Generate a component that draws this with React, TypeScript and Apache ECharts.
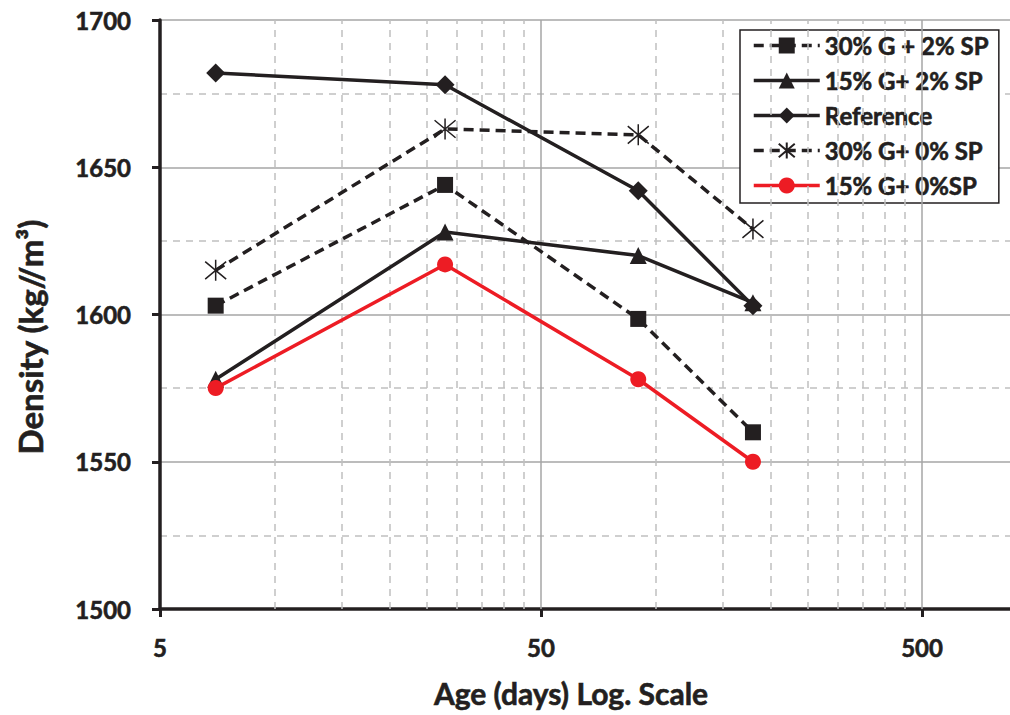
import React, { useEffect, useRef } from "react";
import * as echarts from "echarts";

const ages = [7, 28, 90, 180];
const s30G2SP = [1603, 1644, 1598.5, 1560];
const s15G2SP = [1578, 1628, 1620, 1604];
const reference = [1682, 1678, 1642, 1603];
const s30G0SP = [1615, 1663, 1661, 1629];
const s15G0SP = [1575, 1617, 1578, 1550];

const seriesNames = ["30% G + 2% SP", "15% G+ 2% SP", "Reference", "30% G+ 0% SP", "15% G+ 0%SP"];
const xTickLabels = [5, 50, 500];
const xMajorGrid = [50, 500];
const xMinorGrid = [10, 15, 20, 25, 30, 35, 40, 45, 100, 150, 200, 250, 300, 350, 400, 450];

const INK = "#231f20";
const RED = "#ed1c24";
const FONT = "Lato, 'Open Sans', sans-serif";
const STAR = "path://M0,0L20,20M20,0L0,20M10,-2L10,22";

export default function App() {
  const ref = useRef<HTMLDivElement>(null);
  useEffect(() => {
    const chart = echarts.init(ref.current!, undefined, { renderer: "svg" });
    const pairs = (vals: number[]) => ages.map((a, i) => [a, vals[i]]);
    const lineSeries = (name: string, vals: number[], opts: any) => ({
      type: "line",
      name,
      data: pairs(vals),
      symbolSize: opts.symbolSize,
      symbol: opts.symbol,
      lineStyle: { color: opts.color, width: 3.5, type: opts.dashed ? [10, 6] : "solid" },
      itemStyle: opts.itemStyle || { color: opts.color },
      z: 5,
    });
    const bold = { textBorderColor: INK, textBorderWidth: 0.6 };
    chart.setOption({
      animation: false,
      backgroundColor: "#fff",
      grid: { left: 160, top: 20, bottom: 106, right: 0 },
      xAxis: {
        type: "log",
        logBase: 10,
        min: 5,
        max: 851,
        axisLine: { lineStyle: { color: INK, width: 3.5 } },
        axisTick: { show: true, length: 8, lineStyle: { color: INK, width: 3 }, customValues: xTickLabels },
        axisLabel: {
          customValues: xTickLabels,
          margin: 26,
          fontFamily: FONT,
          fontWeight: "bold",
          fontSize: 24,
          color: INK,
          ...bold,
        },
        splitLine: { show: false },
        minorTick: { show: false },
      },
      yAxis: {
        type: "value",
        min: 1500,
        max: 1700,
        interval: 50,
        axisLine: { show: true, lineStyle: { color: INK, width: 3.5 } },
        axisTick: { show: true, length: 8, lineStyle: { color: INK, width: 3 } },
        axisLabel: {
          margin: 29,
          fontFamily: FONT,
          fontWeight: "bold",
          fontSize: 24,
          color: INK,
          formatter: (v: number) => String(v),
          ...bold,
        },
        splitLine: { show: true, lineStyle: { color: "#a6a6a6", width: 1.5 } },
        minorTick: { show: false, splitNumber: 2 },
        minorSplitLine: { show: true, lineStyle: { color: "#c0c0c0", width: 1.5, type: [7, 6] } },
      },
      legend: {
        orient: "vertical",
        left: 740,
        top: 30,
        padding: [3, 10, 5, 12],
        itemWidth: 66,
        itemHeight: 20,
        itemGap: 10,
        backgroundColor: "#fff",
        borderColor: INK,
        borderWidth: 1.5,
        borderRadius: 0,
        data: seriesNames,
        lineStyle: { width: 3.5 },
        textStyle: { fontFamily: FONT, fontWeight: "bold", fontSize: 24, lineHeight: 25, color: INK, ...bold },
      },
      graphic: [
        {
          type: "text",
          x: 30,
          y: 337,
          rotation: Math.PI / 2,
          style: {
            text: "Density (kg//m³)",
            fontFamily: FONT,
            fontWeight: "bold",
            fontSize: 33,
            fill: INK,
            stroke: INK,
            lineWidth: 0.6,
            align: "center",
            verticalAlign: "middle",
          },
        },
        {
          type: "text",
          x: 571,
          y: 693,
          style: {
            text: "Age (days) Log. Scale",
            fontFamily: FONT,
            fontWeight: "bold",
            fontSize: 30,
            fill: INK,
            stroke: INK,
            lineWidth: 0.6,
            align: "center",
            verticalAlign: "middle",
          },
        },
      ],
      series: [
        {
          type: "line",
          name: "grid",
          data: [],
          silent: true,
          z: 1,
          markLine: {
            silent: true,
            symbol: "none",
            label: { show: false },
            animation: false,
            data: [
              ...xMinorGrid.map((v) => ({ xAxis: v, lineStyle: { color: "#c0c0c0", width: 1.5, type: [7, 6] } })),
              ...xMajorGrid.map((v) => ({ xAxis: v, lineStyle: { color: "#a6a6a6", width: 1.5, type: "solid" } })),
            ],
          },
        },
        lineSeries(seriesNames[0], s30G2SP, { color: INK, dashed: true, symbol: "rect", symbolSize: 16 }),
        lineSeries(seriesNames[1], s15G2SP, { color: INK, dashed: false, symbol: "triangle", symbolSize: 17 }),
        lineSeries(seriesNames[2], reference, { color: INK, dashed: false, symbol: "diamond", symbolSize: 19 }),
        lineSeries(seriesNames[3], s30G0SP, {
          color: INK,
          dashed: true,
          symbol: STAR,
          symbolSize: 21,
          itemStyle: { color: "none", borderColor: INK, borderWidth: 1.5 },
        }),
        lineSeries(seriesNames[4], s15G0SP, { color: RED, dashed: false, symbol: "circle", symbolSize: 16 }),
      ],
    });
    return () => chart.dispose();
  }, []);
  return <div ref={ref} style={{ position: "fixed", left: 0, top: 0, width: 1010, height: 715 }} />;
}
